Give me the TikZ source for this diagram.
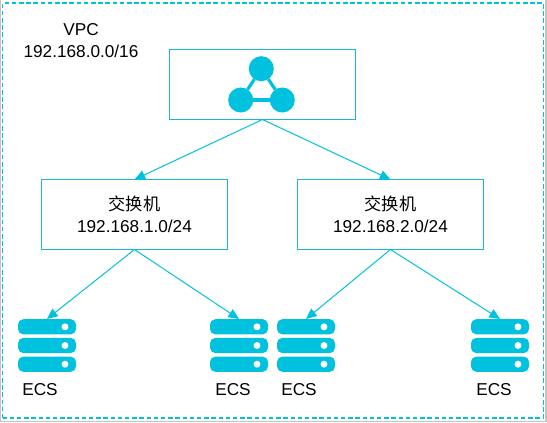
\documentclass[tikz,border=0pt]{standalone}
\usepackage{fontspec}
\setmainfont{Liberation Sans}
\newfontfamily\cjk{Noto Sans CJK SC}
\usetikzlibrary{arrows.meta,calc}
\definecolor{AliCyan}{HTML}{00C1DE}
\definecolor{BoxCyan}{HTML}{19B8D6}
\definecolor{FrameGray}{HTML}{C4C4C4}
\begin{document}
\begin{tikzpicture}[x=0.75pt,y=-0.75pt,
  every node/.style={font=\fontsize{12.9}{16.5}\selectfont,inner sep=0pt,outer sep=0pt},
  boxnode/.style={draw=BoxCyan,line width=0.75pt,minimum width=139.5pt,minimum height=52.5pt,align=center},
  hubdot/.style={circle,fill=AliCyan,minimum size=18.8pt},
  ecsnode/.style={minimum width=43.5pt,minimum height=39.75pt},
  ecsrow/.style={fill=AliCyan,rounded corners=4pt,minimum width=43.5pt,minimum height=11.4pt},
  ecsled/.style={circle,fill=white,minimum size=5.2pt},
  link/.style={-{Triangle[length=8pt,width=7pt]},line width=0.75pt,AliCyan}]
  \useasboundingbox (0,0) rectangle (547,422);
  \draw[FrameGray,line width=0.9pt] (0.4,0)--(0.4,421.2)--(546,421.2)--(546,0);
  \node[draw=AliCyan,dash pattern=on 3.4pt off 2pt,line width=0.9pt,minimum width=405.75pt,minimum height=311.25pt] (vpc) at (273,210.5) {};
  \node[align=center] (vpclabel) at (81,41) {VPC\\192.168.0.0/16};
  \node[boxnode] (hub) at (262.5,84.5) {};
  \node[boxnode] (sw1) at (134.5,214.5) {{\cjk 交换机}\\192.168.1.0/24};
  \node[boxnode] (sw2) at (390.5,214.5) {{\cjk 交换机}\\192.168.2.0/24};
  \node[hubdot] (top) at (261.3,68.7) {};
  \node[hubdot] (left) at (240.7,100) {};
  \node[hubdot] (right) at (282.3,100) {};
  \foreach \x/\y in {top/left,left/right,right/top}{\draw[AliCyan,line width=2.4pt] (\x)--(\y);}
  \node[ecsnode] (e1) at (47,345.5) {};
  \node[ecsnode] (e2) at (239,345.5) {};
  \node[ecsnode] (e3) at (306,345.5) {};
  \node[ecsnode] (e4) at (500,345.5) {};
  \foreach \n in {e1,e2,e3,e4}{
    \foreach \d in {-18.7,0,18.7}{
      \node[ecsrow] at ($(\n.center)+(0,\d)$) {};
      \node[ecsled] at ($(\n.center)+(18,\d)$) {};
    }
  }
  \node (l1) at (40,390) {ECS};
  \node (l2) at (233,390) {ECS};
  \node (l3) at (299,390) {ECS};
  \node (l4) at (494,390) {ECS};
  \foreach \x/\y in {hub/sw1,hub/sw2,sw1/e1,sw1/e2,sw2/e3,sw2/e4}{\draw[link] (\x.south)--(\y.north);}
\end{tikzpicture}
\end{document}
